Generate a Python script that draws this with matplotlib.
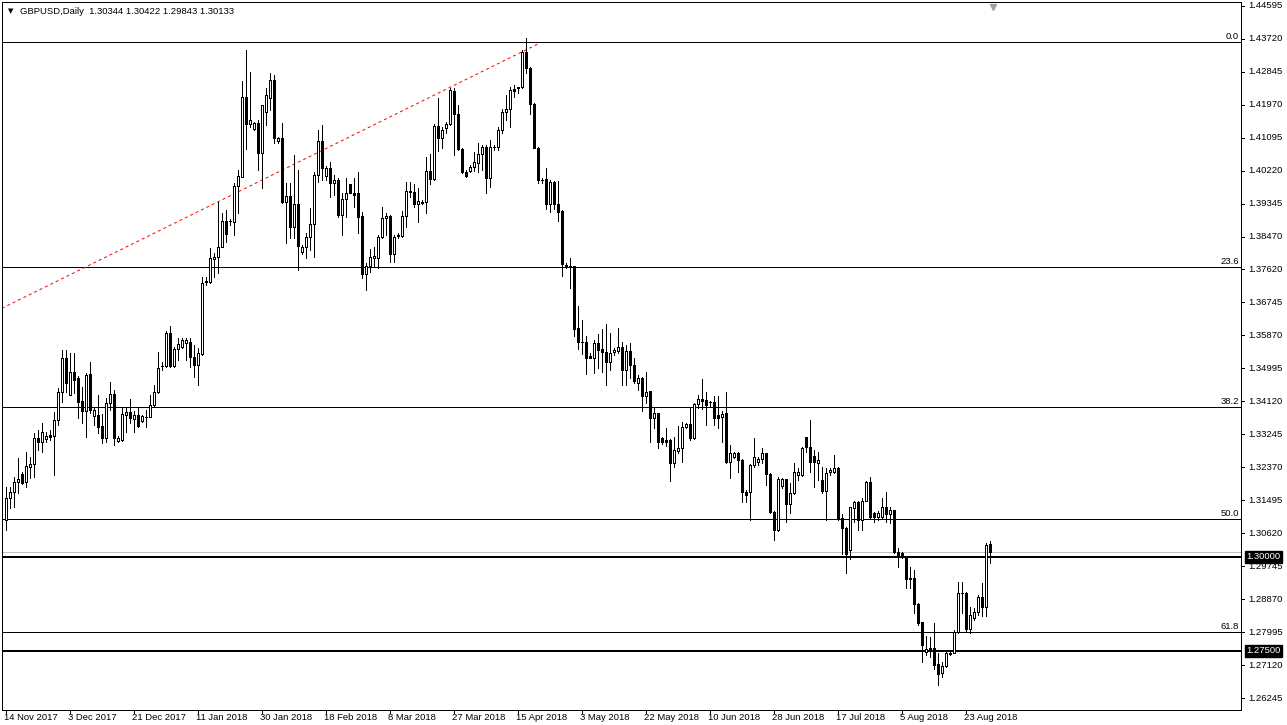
import matplotlib
matplotlib.use("Agg")
import matplotlib.pyplot as plt
import matplotlib.transforms as mtransforms
import numpy as np

plt.rcParams['font.family'] = ['Liberation Sans', 'DejaVu Sans']

symbol = "GBPUSD,Daily"

# daily OHLC, 14 Nov 2017 .. 30 Aug 2018 (MT4 style, sunday bars included)
opens = [1.3097, 1.3155, 1.3171, 1.3198, 1.3219, 1.3198, 1.3237, 1.3245, 1.3314, 1.3304,
         1.3312, 1.3322, 1.3320, 1.3362, 1.3436, 1.3526, 1.3428, 1.3489, 1.3473, 1.3412,
         1.3386, 1.3484, 1.3373, 1.3375, 1.3346, 1.3314, 1.3407, 1.3431, 1.3306, 1.3309,
         1.3375, 1.3383, 1.3365, 1.3375, 1.3359, 1.3370, 1.3370, 1.3402, 1.3436, 1.3505,
         1.3505, 1.3593, 1.3505, 1.3550, 1.3555, 1.3566, 1.3569, 1.3529, 1.3508, 1.3537,
         1.3728, 1.3728, 1.3789, 1.3794, 1.3820, 1.3889, 1.3889, 1.3887, 1.3982, 1.4006,
         1.4218, 1.4146, 1.4133, 1.4149, 1.4070, 1.4178, 1.4215, 1.4263, 1.4101, 1.4109,
         1.3940, 1.3956, 1.3873, 1.3934, 1.3807, 1.3820, 1.3847, 1.3881, 1.4011, 1.4101,
         1.4009, 1.4030, 1.3990, 1.3998, 1.3905, 1.3948, 1.3987, 1.3964, 1.3964, 1.3903,
         1.3749, 1.3770, 1.3791, 1.3791, 1.3847, 1.3897, 1.3903, 1.3802, 1.3850, 1.3850,
         1.3903, 1.3969, 1.3966, 1.3934, 1.3937, 1.3940, 1.4022, 1.4001, 1.4141, 1.4109,
         1.4136, 1.4146, 1.4234, 1.4173, 1.4080, 1.4019, 1.4022, 1.4032, 1.4043, 1.4067,
         1.4085, 1.4003, 1.4085, 1.4085, 1.4131, 1.4178, 1.4186, 1.4239, 1.4243, 1.4244,
         1.4337, 1.4295, 1.4199, 1.4083, 1.3998, 1.4001, 1.3934, 1.3993, 1.3934, 1.3916,
         1.3773, 1.3770, 1.3770, 1.3606, 1.3569, 1.3569, 1.3532, 1.3526, 1.3566, 1.3550,
         1.3542, 1.3516, 1.3542, 1.3545, 1.3555, 1.3495, 1.3545, 1.3508, 1.3460, 1.3473,
         1.3426, 1.3439, 1.3367, 1.3381, 1.3314, 1.3309, 1.3309, 1.3248, 1.3280, 1.3288,
         1.3343, 1.3351, 1.3314, 1.3405, 1.3418, 1.3415, 1.3410, 1.3410, 1.3375, 1.3370,
         1.3381, 1.3251, 1.3264, 1.3275, 1.3256, 1.3171, 1.3171, 1.3243, 1.3251, 1.3259,
         1.3275, 1.3219, 1.3118, 1.3071, 1.3187, 1.3206, 1.3139, 1.3169, 1.3216, 1.3216,
         1.3317, 1.3291, 1.3267, 1.3248, 1.3203, 1.3174, 1.3224, 1.3224, 1.3235, 1.3102,
         1.3076, 1.3017, 1.3129, 1.3145, 1.3097, 1.3147, 1.3198, 1.3116, 1.3105, 1.3105,
         1.3131, 1.3113, 1.3124, 1.3012, 1.3010, 1.2999, 1.2943, 1.2943, 1.2874, 1.2827,
         1.2747, 1.2758, 1.2758, 1.2715, 1.2692, 1.2710, 1.2742, 1.2745, 1.2800, 1.2903,
         1.2903, 1.2808, 1.2837, 1.2853, 1.2893, 1.2867, 1.30344]
highs = [1.3184, 1.3184, 1.3211, 1.3261, 1.3224, 1.3277, 1.3264, 1.3328, 1.3336, 1.3354,
         1.3330, 1.3336, 1.3383, 1.3447, 1.3548, 1.3548, 1.3540, 1.3540, 1.3479, 1.3449,
         1.3487, 1.3516, 1.3394, 1.3428, 1.3378, 1.3420, 1.3463, 1.3442, 1.3320, 1.3394,
         1.3396, 1.3418, 1.3386, 1.3394, 1.3375, 1.3389, 1.3428, 1.3455, 1.3542, 1.3516,
         1.3598, 1.3611, 1.3555, 1.3580, 1.3580, 1.3580, 1.3580, 1.3561, 1.3553, 1.3741,
         1.3741, 1.3818, 1.3805, 1.3940, 1.3911, 1.3918, 1.3895, 1.3990, 1.4024, 1.4260,
         1.4343, 1.4284, 1.4152, 1.4157, 1.4197, 1.4242, 1.4282, 1.4276, 1.4112, 1.4149,
         1.3990, 1.3990, 1.4064, 1.4025, 1.3826, 1.3858, 1.3924, 1.4019, 1.4131, 1.4144,
         1.4035, 1.4046, 1.4011, 1.4003, 1.3964, 1.4003, 1.3987, 1.4003, 1.4019, 1.3913,
         1.3778, 1.3815, 1.3820, 1.3852, 1.3926, 1.3911, 1.3905, 1.3852, 1.3858, 1.3916,
         1.3993, 1.3993, 1.3987, 1.3977, 1.3945, 1.4059, 1.4067, 1.4146, 1.4215, 1.4138,
         1.4152, 1.4242, 1.4242, 1.4197, 1.4083, 1.4025, 1.4038, 1.4072, 1.4096, 1.4091,
         1.4091, 1.4104, 1.4091, 1.4138, 1.4186, 1.4223, 1.4244, 1.4250, 1.4245, 1.4343,
         1.4374, 1.4297, 1.4202, 1.4085, 1.4003, 1.4030, 1.3998, 1.3995, 1.3995, 1.3918,
         1.3778, 1.3791, 1.3770, 1.3664, 1.3627, 1.3585, 1.3540, 1.3574, 1.3590, 1.3603,
         1.3616, 1.3593, 1.3553, 1.3606, 1.3569, 1.3561, 1.3566, 1.3526, 1.3481, 1.3476,
         1.3489, 1.3439, 1.3394, 1.3381, 1.3317, 1.3341, 1.3312, 1.3317, 1.3346, 1.3357,
         1.3354, 1.3394, 1.3407, 1.3428, 1.3471, 1.3436, 1.3412, 1.3426, 1.3426, 1.3386,
         1.3436, 1.3296, 1.3277, 1.3277, 1.3259, 1.3177, 1.3245, 1.3314, 1.3264, 1.3288,
         1.3275, 1.3222, 1.3121, 1.3211, 1.3208, 1.3206, 1.3195, 1.3248, 1.3235, 1.3291,
         1.3317, 1.3362, 1.3283, 1.3277, 1.3237, 1.3235, 1.3235, 1.3270, 1.3237, 1.3113,
         1.3078, 1.3131, 1.3147, 1.3147, 1.3155, 1.3200, 1.3211, 1.3118, 1.3121, 1.3155,
         1.3171, 1.3131, 1.3124, 1.3023, 1.3012, 1.2999, 1.2972, 1.2965, 1.2877, 1.2827,
         1.2790, 1.2787, 1.2824, 1.2745, 1.2721, 1.2747, 1.2747, 1.2805, 1.2933, 1.2933,
         1.2906, 1.2867, 1.2864, 1.2898, 1.2930, 1.3036, 1.30422]
lows = [1.3070, 1.3129, 1.3131, 1.3169, 1.3192, 1.3184, 1.3208, 1.3211, 1.3283, 1.3277,
        1.3304, 1.3309, 1.3216, 1.3349, 1.3410, 1.3436, 1.3428, 1.3434, 1.3367, 1.3354,
        1.3317, 1.3381, 1.3349, 1.3328, 1.3301, 1.3304, 1.3389, 1.3296, 1.3304, 1.3306,
        1.3330, 1.3354, 1.3330, 1.3343, 1.3357, 1.3343, 1.3370, 1.3396, 1.3434, 1.3495,
        1.3502, 1.3502, 1.3502, 1.3521, 1.3553, 1.3521, 1.3502, 1.3476, 1.3455, 1.3534,
        1.3720, 1.3725, 1.3741, 1.3752, 1.3820, 1.3834, 1.3879, 1.3852, 1.3911, 1.4006,
        1.4080, 1.4138, 1.4131, 1.4025, 1.3977, 1.4144, 1.4184, 1.4096, 1.4096, 1.3937,
        1.3831, 1.3844, 1.3844, 1.3760, 1.3802, 1.3791, 1.3813, 1.3794, 1.3993, 1.3998,
        1.3998, 1.3953, 1.3958, 1.3900, 1.3852, 1.3900, 1.3964, 1.3926, 1.3858, 1.3738,
        1.3707, 1.3754, 1.3767, 1.3765, 1.3844, 1.3852, 1.3781, 1.3781, 1.3844, 1.3847,
        1.3873, 1.3953, 1.3926, 1.3887, 1.3934, 1.3911, 1.3987, 1.3998, 1.4075, 1.4083,
        1.4123, 1.4144, 1.4064, 1.4078, 1.4017, 1.4006, 1.4019, 1.4022, 1.4019, 1.4025,
        1.3964, 1.3979, 1.4078, 1.4078, 1.4123, 1.4157, 1.4138, 1.4218, 1.4228, 1.4242,
        1.4282, 1.4173, 1.4083, 1.3990, 1.3990, 1.3921, 1.3913, 1.3921, 1.3889, 1.3744,
        1.3765, 1.3712, 1.3585, 1.3550, 1.3537, 1.3484, 1.3526, 1.3487, 1.3500, 1.3489,
        1.3455, 1.3495, 1.3534, 1.3540, 1.3455, 1.3455, 1.3473, 1.3460, 1.3442, 1.3386,
        1.3407, 1.3304, 1.3341, 1.3288, 1.3298, 1.3293, 1.3200, 1.3237, 1.3275, 1.3251,
        1.3341, 1.3309, 1.3312, 1.3394, 1.3391, 1.3349, 1.3399, 1.3349, 1.3341, 1.3304,
        1.3248, 1.3208, 1.3261, 1.3224, 1.3145, 1.3145, 1.3097, 1.3237, 1.3243, 1.3248,
        1.3190, 1.3116, 1.3044, 1.3068, 1.3182, 1.3092, 1.3116, 1.3166, 1.3203, 1.3214,
        1.3277, 1.3224, 1.3184, 1.3203, 1.3169, 1.3097, 1.3216, 1.3222, 1.3097, 1.3007,
        1.2956, 1.2994, 1.3092, 1.3071, 1.3071, 1.3147, 1.3102, 1.3092, 1.3097, 1.3102,
        1.3092, 1.3089, 1.3009, 1.2972, 1.2996, 1.2917, 1.2917, 1.2851, 1.2819, 1.2721,
        1.2739, 1.2734, 1.2702, 1.2660, 1.2681, 1.2708, 1.2739, 1.2745, 1.2798, 1.2851,
        1.2800, 1.2798, 1.2832, 1.2845, 1.2843, 1.2843, 1.29843]
closes = [1.3155, 1.3171, 1.3198, 1.3206, 1.3195, 1.3240, 1.3245, 1.3314, 1.3304, 1.3330,
          1.3320, 1.3317, 1.3362, 1.3436, 1.3526, 1.3460, 1.3489, 1.3468, 1.3410, 1.3386,
          1.3481, 1.3389, 1.3389, 1.3343, 1.3314, 1.3407, 1.3431, 1.3314, 1.3314, 1.3378,
          1.3383, 1.3367, 1.3375, 1.3346, 1.3373, 1.3371, 1.3402, 1.3436, 1.3500, 1.3506,
          1.3593, 1.3505, 1.3550, 1.3564, 1.3574, 1.3574, 1.3529, 1.3508, 1.3540, 1.3725,
          1.3730, 1.3791, 1.3794, 1.3820, 1.3889, 1.3855, 1.3890, 1.3982, 1.4009, 1.4218,
          1.4146, 1.4157, 1.4149, 1.4070, 1.4197, 1.4223, 1.4263, 1.4109, 1.4109, 1.3940,
          1.3956, 1.3873, 1.3934, 1.3823, 1.3820, 1.3847, 1.3881, 1.4011, 1.4101, 1.4030,
          1.4030, 1.3990, 1.3998, 1.3905, 1.3948, 1.3964, 1.3964, 1.3958, 1.3900, 1.3749,
          1.3770, 1.3794, 1.3797, 1.3847, 1.3897, 1.3903, 1.3802, 1.3847, 1.3851, 1.3903,
          1.3969, 1.3966, 1.3934, 1.3942, 1.3940, 1.4022, 1.4001, 1.4141, 1.4109, 1.4131,
          1.4146, 1.4237, 1.4173, 1.4080, 1.4019, 1.4009, 1.4032, 1.4046, 1.4067, 1.4085,
          1.4003, 1.4085, 1.4086, 1.4131, 1.4178, 1.4186, 1.4237, 1.4234, 1.4244, 1.4337,
          1.4295, 1.4199, 1.4083, 1.3998, 1.3997, 1.3934, 1.3993, 1.3934, 1.3913, 1.3775,
          1.3770, 1.3769, 1.3603, 1.3569, 1.3568, 1.3526, 1.3527, 1.3566, 1.3548, 1.3542,
          1.3516, 1.3540, 1.3548, 1.3555, 1.3495, 1.3545, 1.3508, 1.3465, 1.3473, 1.3426,
          1.3436, 1.3367, 1.3381, 1.3304, 1.3304, 1.3304, 1.3248, 1.3283, 1.3288, 1.3343,
          1.3351, 1.3314, 1.3405, 1.3418, 1.3412, 1.3402, 1.3409, 1.3367, 1.3367, 1.3378,
          1.3251, 1.3275, 1.3275, 1.3256, 1.3171, 1.3163, 1.3243, 1.3264, 1.3259, 1.3275,
          1.3219, 1.3118, 1.3071, 1.3206, 1.3206, 1.3139, 1.3169, 1.3224, 1.3224, 1.3288,
          1.3291, 1.3251, 1.3251, 1.3256, 1.3174, 1.3222, 1.3230, 1.3235, 1.3102, 1.3076,
          1.3007, 1.3131, 1.3145, 1.3097, 1.3147, 1.3198, 1.3105, 1.3105, 1.3116, 1.3131,
          1.3113, 1.3124, 1.3012, 1.3004, 1.2999, 1.2941, 1.2941, 1.2874, 1.2824, 1.2766,
          1.2755, 1.2755, 1.2713, 1.2689, 1.2710, 1.2745, 1.2745, 1.2800, 1.2903, 1.2904,
          1.2808, 1.2845, 1.2853, 1.2893, 1.2867, 1.3031, 1.30133]

date_labels = ["14 Nov 2017", "3 Dec 2017", "21 Dec 2017", "11 Jan 2018", "30 Jan 2018",
               "18 Feb 2018", "8 Mar 2018", "27 Mar 2018", "15 Apr 2018", "3 May 2018",
               "22 May 2018", "10 Jun 2018", "28 Jun 2018", "17 Jul 2018", "5 Aug 2018",
               "23 Aug 2018"]
bars_per_label = 16

price_ticks = [1.44595, 1.43720, 1.42845, 1.41970, 1.41095, 1.40220, 1.39345, 1.38470,
               1.37620, 1.36745, 1.35870, 1.34995, 1.34120, 1.33245, 1.32370, 1.31495,
               1.30620, 1.29745, 1.28870, 1.27995, 1.27120, 1.26245]

fib_names = ["0.0", "23.6", "38.2", "50.0", "61.8"]
fib_prices = [1.4364, 1.3767, 1.3397, 1.3099, 1.2800]
key_levels = [1.3000, 1.2750]
key_names = ["1.30000", "1.27500"]

trend_x = [-0.9, 133.6]
trend_y = [1.3658, 1.4361]

W, H = 1287, 725
PX = 0.72  # one pixel in points
fig = plt.figure(figsize=(W / 100, H / 100), dpi=100)
fig.patch.set_facecolor("white")
ax = fig.add_axes([2 / W, (H - 710) / H, (1241 - 2) / W, (710 - 2) / H])
ax.set_xlim(-0.875, 308.875)
ax.set_ylim(1.25935, 1.44697)
ax.set_xticks([])
ax.set_yticks([])
for sp in ax.spines.values():
    sp.set_linewidth(PX)
    sp.set_color("black")

o = np.array(opens)
h = np.array(highs)
l = np.array(lows)
c = np.array(closes)
x = np.arange(len(o))
up = c >= o

# candles
ax.vlines(x, l, h, color="black", lw=PX, zorder=2, antialiased=False)
ax.bar(x[up], (c - o)[up], bottom=o[up], width=0.5, color="white",
       edgecolor="black", lw=PX, zorder=3, antialiased=False)
ax.bar(x[~up], (o - c)[~up], bottom=c[~up], width=0.5, color="black",
       edgecolor="black", lw=PX, zorder=3, antialiased=False)

# fibo levels
right_tr = mtransforms.blended_transform_factory(ax.transAxes, ax.transData)
for name, p in zip(fib_names, fib_prices):
    ax.axhline(p, color="black", lw=PX, zorder=1)
    ax.text(0.9985, p + 0.0003, name, transform=right_tr, ha="right", va="bottom",
            fontsize=6.8, color="black")

# bid line and round numbers
ax.axhline(closes[-1], color="#c0c0c0", lw=PX, zorder=1)
for p in key_levels:
    ax.axhline(p, color="black", lw=2 * PX, zorder=1)

# trendline
ax.plot(trend_x, trend_y, color="red", lw=PX, linestyle=(0, (3, 3)), zorder=1)

# header
ax.text(6 / 1239, 1 - 9 / 708, "\u25BC", transform=ax.transAxes, ha="left", va="center",
        fontsize=5, family="DejaVu Sans")
ax.text(18 / 1239, 1 - 9 / 708,
        "%s  %.5f %.5f %.5f %.5f" % (symbol, opens[-1], highs[-1], lows[-1], closes[-1]),
        transform=ax.transAxes, ha="left", va="center", fontsize=6.8)

# chart shift marker
ax.plot([(993 - 2) / 1239], [1 - 5 / 708], marker="v", color="#a0a0a0", markersize=5,
        transform=ax.transAxes, clip_on=False)

# price axis
for p in price_ticks:
    ax.text(1 + 7 / 1239, p, "%.5f" % p, transform=right_tr, ha="left", va="center",
            fontsize=6.8, clip_on=False)
    ax.plot([1, 1 + 3 / 1239], [p, p], transform=right_tr, color="black", lw=PX,
            clip_on=False)
for p, name in zip(key_levels, key_names):
    ax.text(1 + 5 / 1239, p, name, transform=right_tr, ha="left", va="center",
            fontsize=6.8, color="white", clip_on=False,
            bbox=dict(boxstyle="square,pad=0.15", facecolor="black", edgecolor="black"))

# time axis
bottom_tr = mtransforms.blended_transform_factory(ax.transData, ax.transAxes)
for k, lab in enumerate(date_labels):
    xi = k * bars_per_label
    ax.text(xi - 0.3, -3 / 708, lab, transform=bottom_tr, ha="left", va="top",
            fontsize=6.8, clip_on=False)
    ax.plot([xi, xi], [0, -3 / 708], transform=bottom_tr, color="black", lw=PX,
            clip_on=False)

fig.savefig("out.png", dpi=100)
